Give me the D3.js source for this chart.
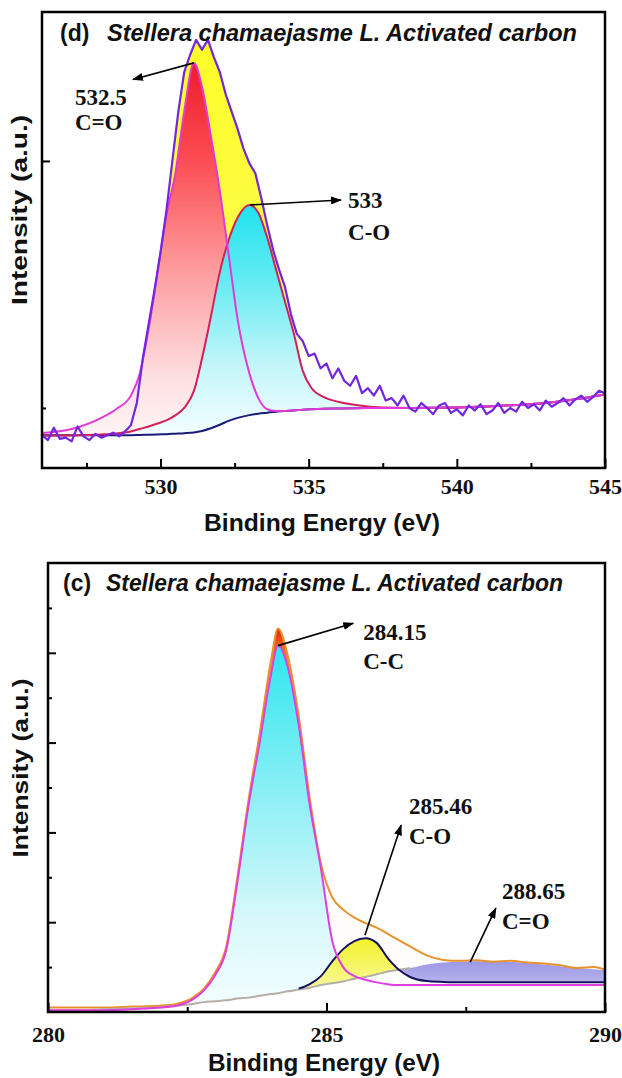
<!DOCTYPE html>
<html>
<head>
<meta charset="utf-8">
<script src="https://cdn.jsdelivr.net/npm/d3@7"></script>
<style>
body { margin: 0; background: #fff; }
svg { display: block; }
</style>
</head>
<body>
<div id="vis"></div>
<script>
/* ====== Data: panel (d), O 1s ====== */
// raw spectrum, sampled every 0.2 eV from 526 eV
var o1sRawStart = 526, o1sRawStep = 0.2;
var o1sRaw = [0.89, 0.87, 0.92, 0.875, 0.88, 0.865, 0.925, 0.885, 0.87, 0.895,
    0.88, 0.89, 0.9, 0.885, 0.905, 0.93, 1.02, 1.2, 1.34, 1.48,
    1.63, 1.8, 2.0, 2.2, 2.36, 2.43, 2.49, 2.45, 2.49, 2.42,
    2.36, 2.27, 2.2, 2.13, 2.05, 1.99, 1.95, 1.85, 1.74, 1.64,
    1.56, 1.49, 1.38, 1.3, 1.27, 1.21, 1.22, 1.16, 1.18, 1.12,
    1.16, 1.11, 1.09, 1.13, 1.06, 1.08, 1.05, 1.09, 1.03, 1.04,
    1.01, 1.05, 1.0, 0.985, 1.02, 1.0, 0.975, 1.01, 1.02, 0.98,
    0.995, 0.97, 1.01, 0.99, 1.015, 0.975, 0.99, 1.02, 0.98, 1.0,
    0.985, 1.025, 1.0, 1.015, 0.99, 1.03, 1.005, 1.02, 1.04, 1.01,
    1.035, 1.05, 1.025, 1.045, 1.07, 1.06];
// fitted curves on a common energy grid
var o1sGrid = [526, 527, 528, 528.5, 529, 529.3, 529.6, 529.9, 530.2, 530.5, 530.8, 531.13,
    531.4, 531.7, 532.0, 532.3, 532.6, 533.0, 533.3, 533.6, 533.9, 534.2, 534.5, 534.8,
    535.1, 535.5, 536.0, 536.6, 537.5, 538.5, 540, 541, 542, 543, 544, 545];
var o1sBg = [0.89, 0.89, 0.89, 0.89, 0.89, 0.891, 0.892, 0.893, 0.894, 0.896, 0.898, 0.901,
    0.907, 0.918, 0.932, 0.948, 0.96, 0.971, 0.977, 0.981, 0.985, 0.988, 0.99, 0.993,
    0.995, 0.997, 0.998, 0.999, 1.0, 1.0, 1.002, 1.006, 1.012, 1.02, 1.035, 1.055];
var o1sCdO = [0.899, 0.915, 0.96, 0.995, 1.05, 1.14, 1.32, 1.55, 1.78, 1.95, 2.2, 2.397,
    2.3, 2.1, 1.88, 1.62, 1.36, 1.14, 1.04, 0.995, 0.988, 0.988, 0.99, 0.993,
    0.995, 0.997, 0.998, 0.999, 1.0, 1.0, 1.002, 1.006, 1.012, 1.02, 1.035, 1.055];
var o1sCO = [0.888, 0.889, 0.893, 0.897, 0.905, 0.915, 0.925, 0.937, 0.95, 0.97, 1.0, 1.07,
    1.2, 1.37, 1.55, 1.68, 1.77, 1.822, 1.79, 1.69, 1.56, 1.43, 1.3, 1.15,
    1.08, 1.045, 1.025, 1.012, 1.002, 1.0, 1.002, 1.006, 1.012, 1.02, 1.035, 1.055];
var o1sXMajor = [530, 535, 540, 545], o1sXMinor = [527.5, 532.5, 537.5, 542.5];
var o1sYMajor = [2], o1sYMinor = [1];
var o1sNotes = [
    { value: "532.5", bond: "C=O", from: [531.13, 2.397], to: [529.07, 2.33], text: [527.11, 2.259, 2.158] },
    { value: "533", bond: "C-O", from: [533.02, 1.822], to: [536.09, 1.842], text: [536.33, 1.842, 1.713] }
];

/* ====== Data: panel (c), C 1s ====== */
var c1sGrid = [280, 280.5, 281, 281.5, 282, 282.3, 282.6, 282.8, 283, 283.2, 283.4, 283.6, 283.8,
    284, 284.13, 284.3, 284.5, 284.7, 284.9, 285.1, 285.3, 285.5, 285.7, 285.9, 286.1, 286.3,
    286.5, 286.8, 287.1, 287.4, 287.7, 288, 288.3, 288.6, 288.9, 289.2, 289.5, 289.8, 290];
var c1sRaw = [0.05, 0.05, 0.05, 0.06, 0.07, 0.09, 0.16, 0.26, 0.44, 0.73, 1.5, 2.36, 3.1,
    3.9, 4.27, 3.98, 3.3, 2.38, 1.65, 1.28, 1.14, 1.05, 0.99, 0.94, 0.87, 0.8,
    0.73, 0.63, 0.58, 0.57, 0.575, 0.56, 0.57, 0.55, 0.54, 0.52, 0.49, 0.5, 0.47];
var c1sCC = [0.02, 0.02, 0.02, 0.03, 0.05, 0.07, 0.14, 0.24, 0.41, 0.69, 1.45, 2.3, 3.0,
    3.75, 4.08, 3.85, 3.2, 2.3, 1.6, 0.8, 0.5, 0.4, 0.36, 0.33, 0.31, 0.3,
    0.3, 0.3, 0.3, 0.3, 0.3, 0.3, 0.3, 0.3, 0.3, 0.3, 0.3, 0.3, 0.3];
var c1sCO = [0.02, 0.02, 0.03, 0.04, 0.05, 0.07, 0.09, 0.11, 0.12, 0.13, 0.15, 0.16, 0.18,
    0.2, 0.21, 0.23, 0.26, 0.31, 0.4, 0.56, 0.7, 0.79, 0.82, 0.77, 0.6, 0.47,
    0.39, 0.345, 0.335, 0.33, 0.33, 0.33, 0.33, 0.33, 0.33, 0.33, 0.33, 0.33, 0.33];
// C=O component, its left side is the background line
var c1sCdO = [0.02, 0.02, 0.03, 0.04, 0.05, 0.07, 0.09, 0.11, 0.12, 0.13, 0.15, 0.16, 0.18,
    0.2, 0.21, 0.23, 0.25, 0.27, 0.3, 0.32, 0.34, 0.37, 0.39, 0.42, 0.45, 0.47,
    0.49, 0.53, 0.55, 0.56, 0.565, 0.565, 0.56, 0.545, 0.53, 0.51, 0.49, 0.475, 0.465];
var c1sXMajor = [280, 285, 290], c1sXMinor = [282.5, 287.5];
var c1sYMajor = [1, 2, 3, 4], c1sYMinor = [0.5, 1.5, 2.5, 3.5, 4.5];
var c1sNotes = [
    { value: "284.15", bond: "C-C", from: [284.13, 4.08], to: [285.48, 4.33], text: [285.66, 4.23, 3.91] },
    { value: "285.46", bond: "C-O", from: [285.69, 0.856], to: [286.34, 2.08], text: [286.48, 2.29, 1.96] },
    { value: "288.65", bond: "C=O", from: [287.58, 0.556], to: [288.04, 1.156], text: [288.15, 1.344, 1.01] }
];

/* ====== Set up ====== */
var serif = '"Liberation Serif", "Times New Roman", serif';
var sans = '"Liberation Sans", Arial, sans-serif';

var svg = d3.select('#vis').append('svg').attr('width', 622).attr('height', 1078);
var defs = svg.append('defs');

defs.append('marker').attr('id', 'arrowhead')
    .attr('viewBox', '0 -4 11 8').attr('refX', 10).attr('refY', 0)
    .attr('markerUnits', 'userSpaceOnUse').attr('markerWidth', 11).attr('markerHeight', 8)
    .attr('orient', 'auto')
    .append('path').attr('d', 'M0,-4L11,0L0,4Z').attr('fill', '#000');

function gradient(id, stops) {
    var g = defs.append('linearGradient').attr('id', id)
        .attr('x1', 0).attr('y1', 0).attr('x2', 0).attr('y2', 1);
    stops.forEach(function (s) {
        g.append('stop').attr('offset', s[0]).attr('stop-color', s[1]);
    });
}
gradient('gYellow', [[0, '#fcfc28'], [0.5, '#fdfd48'], [0.65, '#fefea8'], [0.76, '#ffffff'], [1, '#ffffff']]);
gradient('gRed', [[0, '#ee1c2e'], [0.25, '#fb4a50'], [0.55, '#fd9a9c'], [0.85, '#fde0e2'], [1, '#fff4f4']]);
gradient('gCyan', [[0, '#1fe3ee'], [0.3, '#5eeaf2'], [0.7, '#c4f6f9'], [1, '#f4feff']]);
gradient('gOrange', [[0, '#e8201a'], [0.05, '#f26a10'], [0.12, '#ffa040'], [0.26, '#fff8f0'], [1, '#ffffff']]);
gradient('gCyan2', [[0, '#2fe6ef'], [0.35, '#7feef4'], [0.75, '#d8f8fa'], [1, '#f4feff']]);
gradient('gYellow2', [[0, '#f2f22a'], [0.6, '#f8f88a'], [1, '#fdfde0']]);
gradient('gLav', [[0, '#9c98e6'], [1, '#d6d4f2']]);

/* ====== Panel drawing ====== */
function drawPanel(p) {
    var x = d3.scaleLinear().domain(p.xDomain).range([p.left, p.right]);
    var y = d3.scaleLinear().domain(p.yDomain).range([p.bottom, p.top]);
    var g = svg.append('g').attr('class', 'panel-' + p.id);

    defs.append('clipPath').attr('id', 'clip-' + p.id).append('rect')
        .attr('x', p.left).attr('y', p.top)
        .attr('width', p.right - p.left).attr('height', p.bottom - p.top);
    var plot = g.append('g').attr('clip-path', 'url(#clip-' + p.id + ')');

    // filled components
    p.fills.forEach(function (f) {
        var area = d3.area()
            .curve(f.curve || d3.curveMonotoneX)
            .x(function (d) { return x(d.e); })
            .y1(function (d) { return y(d[f.top]); })
            .y0(function (d) {
                var b = typeof f.base === 'number' ? f.base : d[f.base];
                return y(Math.min(b, d[f.top]));
            });
        plot.append('path').datum(f.rows).attr('d', area).attr('fill', f.fill);
    });

    // outlines
    p.lines.forEach(function (l) {
        var line = d3.line()
            .curve(l.curve || d3.curveMonotoneX)
            .defined(l.defined || function () { return true; })
            .x(function (d) { return x(d.e); })
            .y(function (d) { return y(d[l.key]); });
        plot.append('path').datum(l.rows).attr('d', line)
            .attr('fill', 'none').attr('stroke', l.color)
            .attr('stroke-width', l.width).attr('stroke-linejoin', 'round');
    });

    /* Axes */
    function styleAxis(sel) {
        sel.select('.domain').remove();
        sel.selectAll('line').attr('stroke', '#000').attr('stroke-width', 2);
        sel.selectAll('text').attr('font-family', serif).attr('font-weight', 'bold')
            .attr('font-size', 22).attr('fill', '#111');
    }
    g.append('g').attr('transform', 'translate(0,' + p.bottom + ')')
        .call(d3.axisBottom(x).tickValues(p.xMajor).tickSize(-9).tickPadding(p.labelPad)
            .tickFormat(d3.format('d')))
        .call(styleAxis);
    g.append('g').attr('transform', 'translate(0,' + p.bottom + ')')
        .call(d3.axisBottom(x).tickValues(p.xMinor).tickSize(-5).tickFormat(''))
        .call(styleAxis);
    g.append('g').attr('transform', 'translate(' + p.left + ',0)')
        .call(d3.axisLeft(y).tickValues(p.yMajor).tickSize(-8).tickFormat(''))
        .call(styleAxis);
    g.append('g').attr('transform', 'translate(' + p.left + ',0)')
        .call(d3.axisLeft(y).tickValues(p.yMinor).tickSize(-4).tickFormat(''))
        .call(styleAxis);

    // frame
    g.append('rect').attr('x', p.left).attr('y', p.top)
        .attr('width', p.right - p.left).attr('height', p.bottom - p.top)
        .attr('fill', 'none').attr('stroke', '#000').attr('stroke-width', 2.5);

    /* Annotations */
    p.notes.forEach(function (n) {
        g.append('line')
            .attr('x1', x(n.from[0])).attr('y1', y(n.from[1]))
            .attr('x2', x(n.to[0])).attr('y2', y(n.to[1]))
            .attr('stroke', '#000').attr('stroke-width', 1.6)
            .attr('marker-end', 'url(#arrowhead)');
        g.append('text').attr('x', x(n.text[0])).attr('y', y(n.text[1])).attr('dy', '0.35em')
            .attr('font-family', serif).attr('font-weight', 'bold').attr('font-size', 23)
            .attr('fill', '#111').text(n.value);
        g.append('text').attr('x', x(n.text[0])).attr('y', y(n.text[2])).attr('dy', '0.35em')
            .attr('font-family', serif).attr('font-weight', 'bold').attr('font-size', 23)
            .attr('fill', '#111').text(n.bond);
    });

    /* Titles */
    g.append('text').attr('x', p.tagX).attr('y', p.titleY)
        .attr('font-family', sans).attr('font-weight', 'bold').attr('font-size', 23)
        .attr('fill', '#111').text(p.tag);
    g.append('text').attr('x', p.titleX).attr('y', p.titleY)
        .attr('font-family', sans).attr('font-weight', 'bold').attr('font-style', 'italic')
        .attr('font-size', 23).attr('fill', '#111')
        .attr('textLength', p.titleLen).attr('lengthAdjust', 'spacingAndGlyphs')
        .text('Stellera chamaejasme L. Activated carbon');
    g.append('text').attr('x', p.xTitleX).attr('y', p.xTitleY).attr('text-anchor', 'middle')
        .attr('font-family', sans).attr('font-weight', 'bold').attr('font-size', 24)
        .attr('fill', '#111')
        .attr('textLength', p.xTitleLen).attr('lengthAdjust', 'spacingAndGlyphs')
        .text('Binding Energy (eV)');
    g.append('text')
        .attr('transform', 'translate(' + p.yTitleX + ',' + p.yTitleY + ') rotate(-90)')
        .attr('text-anchor', 'middle')
        .attr('font-family', sans).attr('font-weight', 'bold').attr('font-size', 22)
        .attr('fill', '#111')
        .attr('textLength', p.yTitleLen).attr('lengthAdjust', 'spacingAndGlyphs')
        .text('Intensity (a.u.)');
}

/* ====== Build rows ====== */
var o1sRawRows = o1sRaw.map(function (v, i) {
    return { e: o1sRawStart + i * o1sRawStep, v: v };
});
var o1sRows = o1sGrid.map(function (e, i) {
    return { e: e, bg: o1sBg[i], cdo: o1sCdO[i], co: o1sCO[i] };
});
var c1sRows = c1sGrid.map(function (e, i) {
    return { e: e, raw: c1sRaw[i], cc: c1sCC[i], co: c1sCO[i], cdo: c1sCdO[i] };
});

/* Panel (d) */
drawPanel({
    id: 'o1s', left: 42, right: 605, top: 12, bottom: 468,
    xDomain: [526, 545], yDomain: [0.757, 2.603],
    xMajor: o1sXMajor, xMinor: o1sXMinor, yMajor: o1sYMajor, yMinor: o1sYMinor,
    labelPad: 10,
    fills: [
        { rows: o1sRawRows, top: 'v', base: 0.757, fill: 'url(#gYellow)', curve: d3.curveLinear },
        { rows: o1sRows, top: 'cdo', base: 'bg', fill: 'url(#gRed)' },
        { rows: o1sRows, top: 'co', base: 'bg', fill: 'url(#gCyan)' }
    ],
    lines: [
        { rows: o1sRows, key: 'bg', color: '#1c1c78', width: 2 },
        { rows: o1sRows, key: 'co', color: '#d2205c', width: 2 },
        { rows: o1sRows, key: 'cdo', color: '#e23ad8', width: 2 },
        { rows: o1sRawRows, key: 'v', color: '#7326e0', width: 2.2, curve: d3.curveLinear }
    ],
    notes: o1sNotes,
    tag: '(d)', tagX: 60, titleX: 107, titleY: 41, titleLen: 470,
    xTitleX: 322, xTitleY: 531, xTitleLen: 236,
    yTitleX: 27, yTitleY: 210, yTitleLen: 190
});

/* Panel (c) */
drawPanel({
    id: 'c1s', left: 48, right: 605, top: 563, bottom: 1012,
    xDomain: [280, 290], yDomain: [0, 5],
    xMajor: c1sXMajor, xMinor: c1sXMinor, yMajor: c1sYMajor, yMinor: c1sYMinor,
    labelPad: 14,
    fills: [
        { rows: c1sRows, top: 'raw', base: 0, fill: 'url(#gOrange)' },
        { rows: c1sRows, top: 'cc', base: 'cdo', fill: 'url(#gCyan2)' },
        { rows: c1sRows, top: 'co', base: 'cdo', fill: 'url(#gYellow2)' },
        { rows: c1sRows, top: 'cdo', base: 'co', fill: 'url(#gLav)' }
    ],
    lines: [
        { rows: c1sRows, key: 'raw', color: '#e8922e', width: 2 },
        { rows: c1sRows, key: 'cdo', color: '#b5aea6', width: 2,
          defined: function (d) { return d.e <= 286.5; } },
        { rows: c1sRows, key: 'co', color: '#14125e', width: 2,
          defined: function (d) { return d.e >= 284.5; } },
        { rows: c1sRows, key: 'cc', color: '#e03ee0', width: 2 }
    ],
    notes: c1sNotes,
    tag: '(c)', tagX: 63, titleX: 106, titleY: 591, titleLen: 457,
    xTitleX: 324, xTitleY: 1071, xTitleLen: 232,
    yTitleX: 28, yTitleY: 768, yTitleLen: 179
});
</script>
</body>
</html>
